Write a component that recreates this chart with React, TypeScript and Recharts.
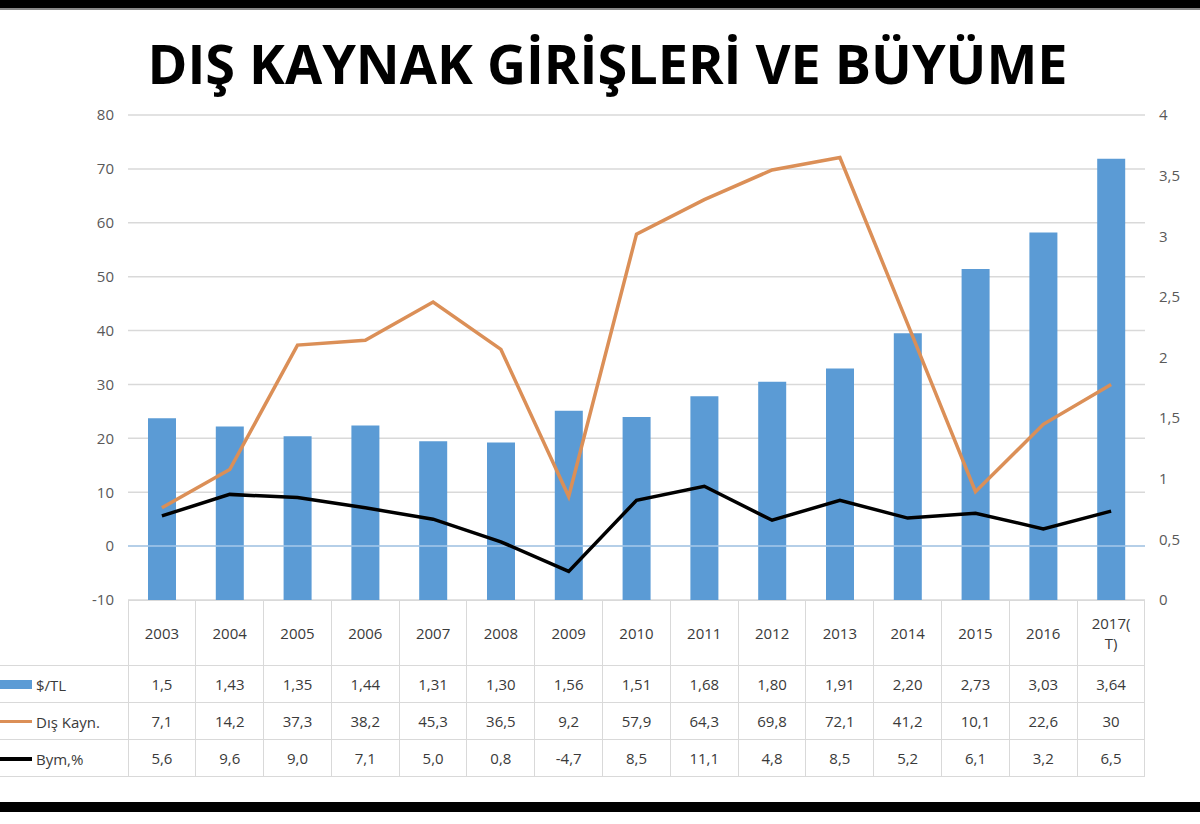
import React from 'react';
import {
  ComposedChart,
  Bar,
  Line,
  XAxis,
  YAxis,
  CartesianGrid,
  ReferenceLine,
} from 'recharts';

const years = ['2003', '2004', '2005', '2006', '2007', '2008', '2009', '2010', '2011', '2012', '2013', '2014', '2015', '2016', '2017(T)'];
const usdTl = [1.5, 1.43, 1.35, 1.44, 1.31, 1.3, 1.56, 1.51, 1.68, 1.8, 1.91, 2.2, 2.73, 3.03, 3.64];
const disKaynak = [7.1, 14.2, 37.3, 38.2, 45.3, 36.5, 9.2, 57.9, 64.3, 69.8, 72.1, 41.2, 10.1, 22.6, 30];
const buyume = [5.6, 9.6, 9.0, 7.1, 5.0, 0.8, -4.7, 8.5, 11.1, 4.8, 8.5, 5.2, 6.1, 3.2, 6.5];

// table text as printed in the picture
const usdLabels = ['1,5', '1,43', '1,35', '1,44', '1,31', '1,30', '1,56', '1,51', '1,68', '1,80', '1,91', '2,20', '2,73', '3,03', '3,64'];
const disLabels = ['7,1', '14,2', '37,3', '38,2', '45,3', '36,5', '9,2', '57,9', '64,3', '69,8', '72,1', '41,2', '10,1', '22,6', '30'];
const bymLabels = ['5,6', '9,6', '9,0', '7,1', '5,0', '0,8', '-4,7', '8,5', '11,1', '4,8', '8,5', '5,2', '6,1', '3,2', '6,5'];
const leftTicks = [-10, 0, 10, 20, 30, 40, 50, 60, 70, 80];
const rightTicks = [0, 0.5, 1, 1.5, 2, 2.5, 3, 3.5, 4];

const BLUE = '#5B9BD5';
const ORANGE = '#DB8F57';
const FONT = '"Open Sans", "DejaVu Sans", sans-serif';
const GRID = '#d9d9d9';

const data = years.map((y, i) => ({
  year: y,
  usd: usdTl[i],
  dis: disKaynak[i],
  bym: buyume[i],
}));

const comma = (v: number) => String(v).replace('.', ',');

const PLOT_LEFT = 128;
const PLOT_RIGHT = 1145;
const COL_W = (PLOT_RIGHT - PLOT_LEFT) / years.length;

const cell: React.CSSProperties = {
  borderLeft: `1px solid ${GRID}`,
  borderBottom: `1px solid ${GRID}`,
  textAlign: 'center',
  padding: 0,
  color: '#3a3a3a',
  fontSize: 15,
};

const legendCell: React.CSSProperties = {
  borderBottom: `1px solid ${GRID}`,
  padding: 0,
  color: '#3a3a3a',
  fontSize: 15,
  whiteSpace: 'nowrap',
};

const rows = [
  { label: '$/TL', key: <div style={{ width: 32, height: 9, background: BLUE, display: 'inline-block', marginRight: 4, verticalAlign: 'middle' }} />, vals: usdLabels, h: 37 },
  { label: 'Dış Kayn.', key: <div style={{ width: 32, height: 3, background: ORANGE, display: 'inline-block', marginRight: 4, verticalAlign: 'middle' }} />, vals: disLabels, h: 37 },
  { label: 'Bym,%', key: <div style={{ width: 32, height: 4, background: '#000', display: 'inline-block', marginRight: 4, verticalAlign: 'middle' }} />, vals: bymLabels, h: 37 },
];

export default function App() {
  return (
    <div style={{ position: 'absolute', left: 0, top: 0, width: 1200, height: 824, background: '#fff', fontFamily: FONT, overflow: 'hidden' }}>
      <div style={{ position: 'absolute', left: 0, top: 0, width: 1200, height: 8, background: '#000' }} />
      <div style={{ position: 'absolute', left: 0, top: 8, width: 1200, height: 2, background: '#888' }} />
      <div
        style={{
          position: 'absolute',
          left: 0,
          top: 28,
          width: 1215,
          textAlign: 'center',
          fontSize: 54,
          fontWeight: 700,
          color: '#000',
          lineHeight: '70px',
        }}
      >
        DIŞ KAYNAK GİRİŞLERİ VE BÜYÜME
      </div>

      <div style={{ position: 'absolute', left: 0, top: 0 }}>
        <ComposedChart
          width={1200}
          height={625}
          data={data}
          margin={{ top: 115, right: 5, bottom: 25, left: 88 }}
          barSize={28}
        >
          <CartesianGrid yAxisId="left" vertical={false} stroke={GRID} strokeWidth={1.5} />
          <XAxis dataKey="year" hide />
          <YAxis
            yAxisId="left"
            orientation="left"
            width={40}
            domain={[-10, 80]}
            ticks={leftTicks}
            interval={0}
            axisLine={false}
            tickLine={false}
            tickMargin={8}
            tick={{ fill: '#595959', fontSize: 15, fontFamily: FONT }}
          />
          <YAxis
            yAxisId="right"
            orientation="right"
            width={50}
            domain={[0, 4]}
            ticks={rightTicks}
            interval={0}
            axisLine={false}
            tickLine={false}
            tickMargin={8}
            tickFormatter={comma}
            tick={{ fill: '#595959', fontSize: 15, fontFamily: FONT, textAnchor: 'start' }}
          />
          <Bar yAxisId="right" dataKey="usd" fill={BLUE} isAnimationActive={false} />
          <ReferenceLine yAxisId="left" y={0} stroke="#a6c8ea" strokeWidth={1.5} />
          <Line
            yAxisId="left"
            type="linear"
            dataKey="dis"
            stroke={ORANGE}
            strokeWidth={3.5}
            dot={false}
            isAnimationActive={false}
          />
          <Line
            yAxisId="left"
            type="linear"
            dataKey="bym"
            stroke="#000"
            strokeWidth={3.5}
            dot={false}
            isAnimationActive={false}
          />
        </ComposedChart>
      </div>

      <table
        style={{
          position: 'absolute',
          left: 0,
          top: 600,
          width: PLOT_RIGHT,
          borderCollapse: 'collapse',
          tableLayout: 'fixed',
          fontFamily: FONT,
        }}
      >
        <colgroup>
          <col style={{ width: PLOT_LEFT }} />
          {years.map((y) => (
            <col key={y} style={{ width: COL_W }} />
          ))}
        </colgroup>
        <tbody>
          <tr style={{ height: 65 }}>
            <td style={legendCell} />
            {years.map((y, i) => (
              <td
                key={y}
                style={{
                  ...cell,
                  borderTop: `1px solid ${GRID}`,
                  borderRight: i === years.length - 1 ? `1px solid ${GRID}` : undefined,
                  lineHeight: '20px',
                }}
              >
                {y === '2017(T)' ? (
                  <span>
                    2017(
                    <br />
                    T)
                  </span>
                ) : (
                  y
                )}
              </td>
            ))}
          </tr>
          {rows.map((r) => (
            <tr key={r.label} style={{ height: r.h }}>
              <td style={legendCell}>
                {r.key}
                <span style={{ verticalAlign: 'middle' }}>{r.label}</span>
              </td>
              {r.vals.map((v, i) => (
                <td
                  key={i}
                  style={{
                    ...cell,
                    borderRight: i === r.vals.length - 1 ? `1px solid ${GRID}` : undefined,
                  }}
                >
                  {v}
                </td>
              ))}
            </tr>
          ))}
        </tbody>
      </table>

      <div style={{ position: 'absolute', left: 0, top: 802, width: 1200, height: 10, background: '#000' }} />
    </div>
  );
}
